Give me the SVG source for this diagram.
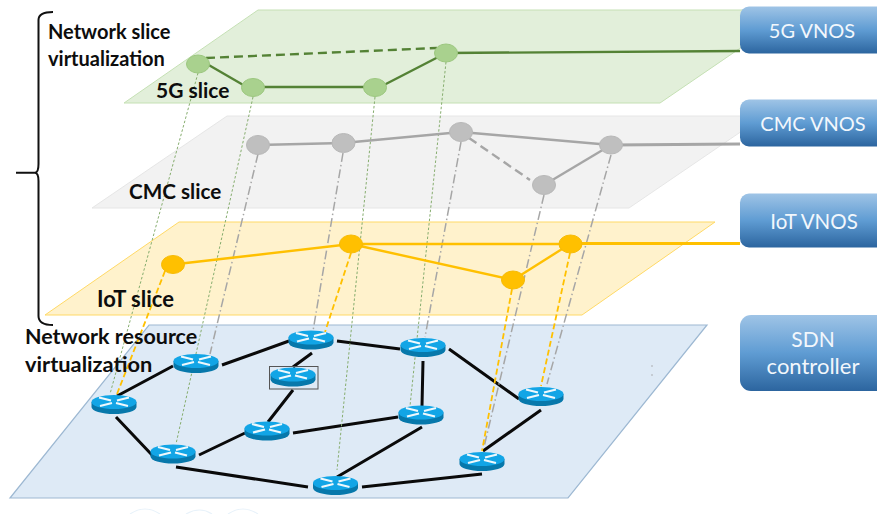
<svg xmlns="http://www.w3.org/2000/svg" xmlns:xlink="http://www.w3.org/1999/xlink" width="877" height="514" viewBox="0 0 877 514">
<style>
.lbl{font-family:Lato,"Liberation Sans",sans-serif;font-weight:700;font-size:20px;fill:#0d0d0d}
.box{font-family:Lato,"Liberation Sans",sans-serif;font-size:20px;fill:#f2f7fc;text-anchor:middle}
.g{fill:#a9d18e;stroke:#9cc77f;stroke-width:1}
.c{fill:#bfbfbf;stroke:#b8b8b8;stroke-width:1}
.y{fill:#ffc000;stroke:#f7bb05;stroke-width:1}
.lg{stroke:#548235;stroke-width:2.4;fill:none}
.lc{stroke:#a6a6a6;stroke-width:2.4;fill:none}
.ly{stroke:#ffc000;stroke-width:2.4;fill:none}
.k{stroke:#0a0a0a;stroke-width:3;fill:none}
.vg{stroke:#86ad6e;stroke-width:1;stroke-dasharray:2.5 2;fill:none}
.vc{stroke:#a6a6a6;stroke-width:1.5;stroke-dasharray:9 3 1.5 3;fill:none}
.vy{stroke:#ffc000;stroke-width:1.8;stroke-dasharray:6 3;fill:none}
.vbox{fill:url(#bg)}
.dash{stroke-dasharray:9 5}
.thick{stroke-width:3.2}
</style>
<defs>
<linearGradient id="bg" x1="0" y1="0" x2="0" y2="1">
<stop offset="0" stop-color="#9fc4e6"/><stop offset="0.5" stop-color="#5f9cd3"/><stop offset="1" stop-color="#2c659f"/>
</linearGradient>
<g id="router">
<path d="M-22.5 -2.5V2.5A22.5 7 0 0 0 22.5 2.5V-2.5Z" fill="#0778ab"/>
<ellipse cx="0" cy="-2.5" rx="22.5" ry="7" fill="#12a5e6"/>
<path d="M-15 -7 L-3 -4 M-2 -1.5 L-14 1.5 M15 -7 L3 -4 M2 -1.5 L14 1.5" stroke="#eef8fc" stroke-width="2.2" fill="none"/>
</g>
</defs>

<g id="planes">
<polygon points="258,10 796,10 660,103 124,103" fill="#e2efda" stroke="#c5e0b4"/>
<polygon points="227,116 764,116 629,208 92,208" fill="#f2f2f2" stroke="#e6e6e6"/>
<polygon points="179,222 715,222 582,315 45,315" fill="#fff2cc" stroke="#ffd966"/>
<polygon points="149,325 707,325 568,498 10,498" fill="#deeaf6" stroke="#9db8d2" stroke-width="1.2"/>
<circle cx="652" cy="366" r="0.7" fill="#999"/><circle cx="652" cy="375" r="0.7" fill="#999"/>
<path d="M130 514Q145 504 160 514M186 514Q200 506 212 514M228 514Q243 504 258 514" fill="none" stroke="#e8f2fa" stroke-width="1.2"/>
</g>

<path id="bracket" d="M53 12Q38.500 12 38.500 20V164Q38.500 172.500 35 172.700H16M35 172.700Q38.500 173 38.500 181V316Q38.500 325 53 325" fill="none" stroke="#111" stroke-width="2"/>

<g id="connectors">
<path class="k" d="M117 396L173 366M222 365L289 341M337 341L400 349M312 353L293 367M293 390L268 422M423 361L422 406M293 433L398 417M116 417L152 455M199 455L245 433M176 467L308 487M337 477L422 427M362 487L482 474M449 349L519 399M541 410L483 451"/>
<path class="vg" d="M198 73L110 394M253 97L176 444M375 97L337 470M446 62L410 406"/>
<path class="vc" d="M258 154L210 354M343 153L313 331M461 142L425 337M544 195L484 447M611 155L547 384"/>
<path class="vy" d="M165 271L117 394M351 253L325 332M512 289L482 451M570 253L541 386"/>
<path class="lg dash" d="M206 58L437 48"/>
<path class="lg" d="M207 64L245 86M253 87L375 87M382 86L446 53M446 53L740 51"/>
<path class="lc" d="M258 145L343 143L461 132L611 145"/>
<path class="lc dash" d="M469 138L530 180"/>
<path class="lc" d="M544 185L611 145"/>
<path class="lc thick" d="M611 145L740 144"/>
<path class="ly" d="M173 264.500L351 244L570 244M351 244L513 280L570 244"/>
<path class="ly thick" d="M570 243.500L740 243.500"/>
</g>

<g id="slice-5g-nodes">
<ellipse class="g" cx="198" cy="64" rx="11.500" ry="9"/><ellipse class="g" cx="253" cy="87.500" rx="11.500" ry="9"/><ellipse class="g" cx="375" cy="87.500" rx="11.500" ry="9"/><ellipse class="g" cx="446" cy="53" rx="11.500" ry="9"/>
</g>
<g id="slice-cmc-nodes">
<ellipse class="c" cx="258" cy="145" rx="11.500" ry="9.500"/><ellipse class="c" cx="343.500" cy="143" rx="11.500" ry="9.500"/><ellipse class="c" cx="461" cy="132" rx="11.500" ry="9.500"/><ellipse class="c" cx="544" cy="185" rx="11.500" ry="9.500"/><ellipse class="c" cx="611" cy="145" rx="11.500" ry="9"/>
</g>
<g id="slice-iot-nodes">
<ellipse class="y" cx="173" cy="264.500" rx="11.500" ry="9"/><ellipse class="y" cx="351" cy="244" rx="11.500" ry="9"/><ellipse class="y" cx="570.500" cy="244" rx="11.500" ry="9"/><ellipse class="y" cx="513" cy="280" rx="11.500" ry="9"/>
</g>

<g id="routers">
<use xlink:href="#router" href="#router" x="114" y="404.500"/>
<use xlink:href="#router" href="#router" x="196" y="363.500"/>
<use xlink:href="#router" href="#router" x="311" y="340"/>
<use xlink:href="#router" href="#router" x="423" y="347.500"/>
<use xlink:href="#router" href="#router" x="541" y="396.500"/>
<use xlink:href="#router" href="#router" x="293" y="377"/>
<use xlink:href="#router" href="#router" x="267" y="431"/>
<use xlink:href="#router" href="#router" x="421" y="415"/>
<use xlink:href="#router" href="#router" x="173" y="454"/>
<use xlink:href="#router" href="#router" x="335.500" y="485.500"/>
<use xlink:href="#router" href="#router" x="482" y="461.500"/>
<rect x="269.500" y="366.500" width="48.500" height="22.500" fill="none" stroke="#555" stroke-width="1"/>
</g>

<g id="vnos-5g"><rect class="vbox" x="740" y="6.500" width="150" height="47" rx="9"/><text class="box" x="812" y="38">5G VNOS</text></g>
<g id="vnos-cmc"><rect class="vbox" x="740" y="99.500" width="150" height="47" rx="9"/><text class="box" x="813" y="131">CMC VNOS</text></g>
<g id="vnos-iot"><rect class="vbox" x="740" y="193.500" width="150" height="54" rx="9"/><text class="box" x="814" y="229" style="font-size:20.500px">IoT VNOS</text></g>
<g id="sdn"><rect class="vbox" x="740" y="315" width="150" height="76" rx="11"/><text class="box" x="813" y="347" style="font-size:21px">SDN</text><text class="box" x="813" y="374" style="font-size:22px">controller</text></g>

<g id="labels">
<text class="lbl" x="48" y="39" style="font-size:20px">Network slice</text>
<text class="lbl" x="48" y="66" style="font-size:20px">virtualization</text>
<text class="lbl" x="156" y="98" style="font-size:21px">5G slice</text>
<text class="lbl" x="129" y="199" style="font-size:20.700px">CMC slice</text>
<text class="lbl" x="97" y="307" style="font-size:22px">IoT slice</text>
<text class="lbl" x="25" y="344" style="font-size:21.500px">Network resource</text>
<text class="lbl" x="25" y="372" style="font-size:21.800px">virtualization</text>
</g>
</svg>
